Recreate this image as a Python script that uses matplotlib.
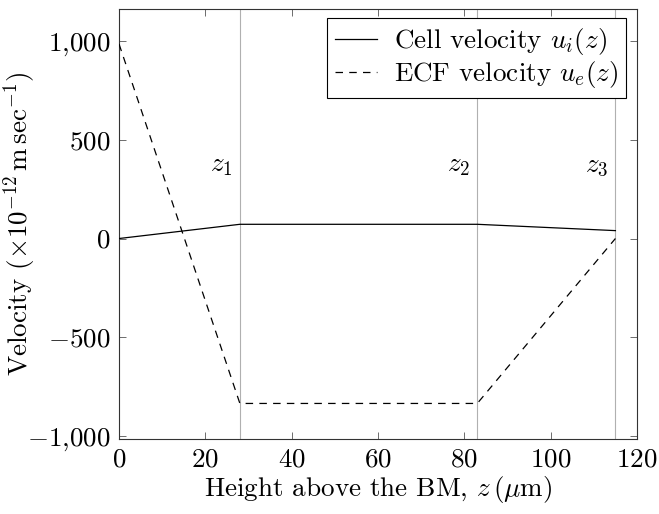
import matplotlib
matplotlib.use('Agg')
import matplotlib.pyplot as plt

# Dados
z_cell = [0, 28, 83, 115]
u_cell = [0, 72, 72, 40]
z_ecf = [0, 28, 83, 115]
u_ecf = [985, -835, -835, 0]
z_marks = [28, 83, 115]
z_names = ['$z_1$', '$z_2$', '$z_3$']
x_ticks = [0, 20, 40, 60, 80, 100, 120]
y_ticks = [-1000, -500, 0, 500, 1000]
y_ticklabels = ['$-1{,}000$', '$-500$', '$0$', '$500$', '$1{,}000$']

plt.rcParams['mathtext.fontset'] = 'cm'
plt.rcParams['font.family'] = 'serif'
plt.rcParams['font.serif'] = ['cmr10']
plt.rcParams['axes.formatter.use_mathtext'] = True

fs = 19.5
fig = plt.figure(figsize=(6.59, 5.14), dpi=100)
ax = fig.add_axes([0.1806, 0.1459, 0.7860, 0.8366])

for zm in z_marks:
    ax.axvline(zm, color='#b0b0b0', lw=0.8, zorder=1)
for zm, name in zip(z_marks, z_names):
    ax.text(zm - 1.6, 365, name, ha='right', va='center', fontsize=fs)

ax.plot(z_cell, u_cell, color='black', lw=0.9, label='Cell velocity $u_i(z)$', zorder=3)
ax.plot(z_ecf, u_ecf, color='black', lw=0.9, dashes=(6, 5),
        label='ECF velocity $u_e(z)$', zorder=3)

ax.set_xlim(0, 120)
ax.set_ylim(-1015, 1162)
ax.set_xticks(x_ticks)
ax.set_xticklabels([f'${v}$' for v in x_ticks])
ax.set_yticks(y_ticks)
ax.set_yticklabels(y_ticklabels)
ax.tick_params(direction='in', top=True, right=True, length=5, width=0.6,
               color='#555555', labelsize=fs, pad=6)
for sp in ax.spines.values():
    sp.set_linewidth(0.8)
    sp.set_color('#333333')

ax.set_xlabel(r'Height above the BM, $z\,(\mu\mathrm{m})$', fontsize=fs, labelpad=2)
ax.set_ylabel(r'Velocity $(\times 10^{-12}\,\mathrm{m\,sec}^{-1})$', fontsize=fs)
ax.yaxis.set_label_coords(-0.156, 0.5)

leg = ax.legend(loc='upper right', bbox_to_anchor=(0.979, 0.979), fontsize=fs,
                fancybox=False, framealpha=1, edgecolor='black',
                handlelength=1.55, handletextpad=0.6, borderpad=0.3,
                labelspacing=0.08, borderaxespad=0)
leg.get_frame().set_linewidth(0.8)

fig.savefig('out.png', dpi=100)
